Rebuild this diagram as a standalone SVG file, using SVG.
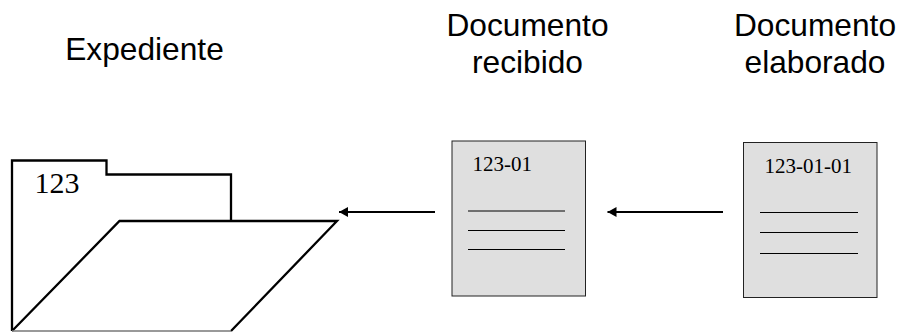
<svg xmlns="http://www.w3.org/2000/svg" width="901" height="332" viewBox="0 0 901 332">
<style>
.s{font-family:"Liberation Sans",Arial,sans-serif;font-size:31.700px;fill:#000;text-anchor:middle}
.t{font-family:"Liberation Serif","Times New Roman",serif;fill:#000}
.f{fill:none;stroke:#000;stroke-width:2.300}
.d{fill:#dfdfdf;stroke:#222;stroke-width:1}
.l{stroke:#000;stroke-width:1;fill:none}
.c{stroke:#000;stroke-width:2;fill:none;marker-end:url(#a)}
</style>
<defs><marker id="a" markerUnits="userSpaceOnUse" markerWidth="10" markerHeight="10" refX="9" refY="5" orient="auto"><path d="M0 0L9 5L0 10Z" fill="#000"/></marker></defs>
<rect width="901" height="332" fill="#fff"/>
<g id="expediente">
<text class="s" x="144.500" y="60">Expediente</text>
<path class="f" d="M12 331V160.500H106.500V174.500H231V221"/>
<path class="f" d="M12 331L119.500 221H337L231 331"/>
<path d="M12 331H231" stroke="#777" stroke-width="1.500" fill="none"/>
<text class="t" x="34.500" y="192.500" font-size="30">123</text>
</g>
<g id="documento-recibido">
<text class="s" x="527.500" y="36">Documento</text>
<text class="s" x="527.500" y="73">recibido</text>
<rect class="d" x="452" y="141" width="133.500" height="155"/>
<text class="t" x="472.500" y="171" font-size="21">123-01</text>
<path class="l" d="M468 211H565M468 230.500H565M468 249.500H565"/>
</g>
<g id="documento-elaborado">
<text class="s" x="815" y="36">Documento</text>
<text class="s" x="815" y="73">elaborado</text>
<rect class="d" x="743.500" y="142.500" width="133.500" height="155"/>
<text class="t" x="764.500" y="173" font-size="21">123-01-01</text>
<path class="l" d="M760 212.500H858M760 232.500H858M760 253.500H858"/>
</g>
<g id="connectors">
<path class="c" d="M435 212H339"/>
<path class="c" d="M723 212H607.500"/>
</g>
</svg>
